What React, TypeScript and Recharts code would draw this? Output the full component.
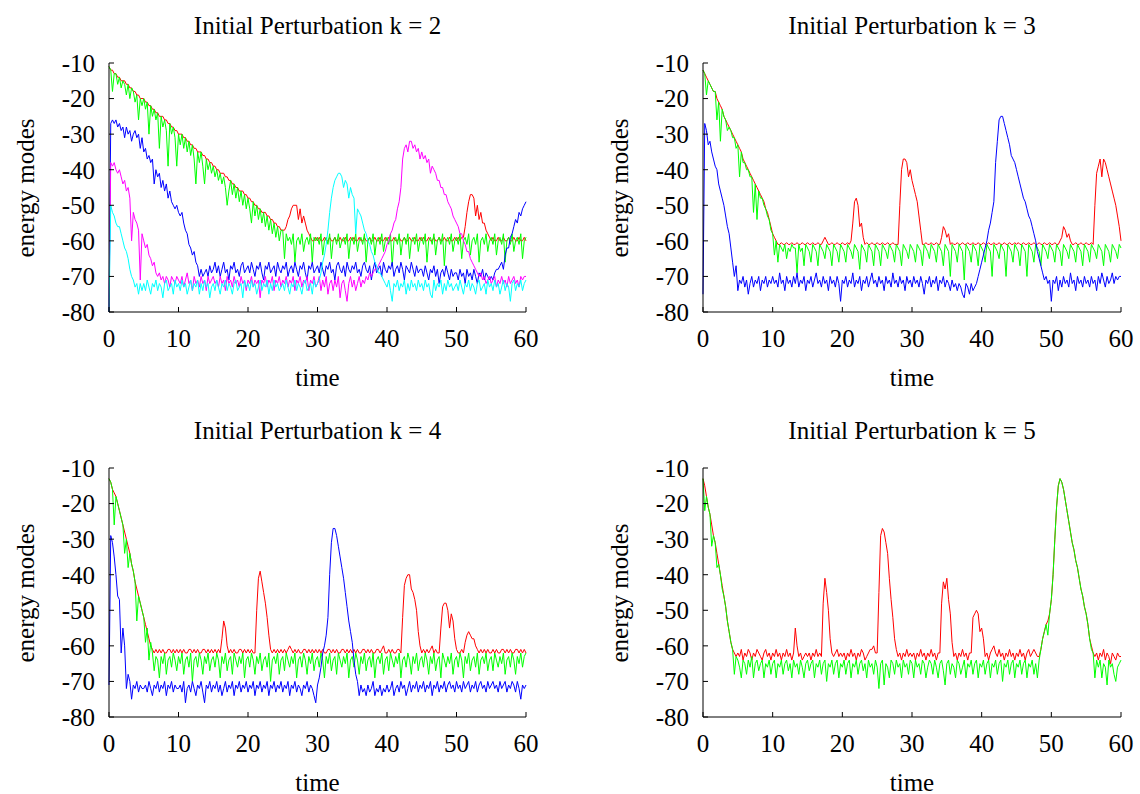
import React from 'react';
import { Line, LineChart, XAxis, YAxis } from 'recharts';

// sampling interval of every series, in time units (241 samples over 0..60)
const STEP = 0.25;
const X_TICKS = [0, 10, 20, 30, 40, 50, 60];
const Y_TICKS = [-80, -70, -60, -50, -40, -30, -20, -10];

// ---- k = 2 ----
const k2Red = [
  -11, -12, -12, -13, -13, -14, -14, -15, -15, -15, -16, -16, -17, -17, -18, -18, -19, -19, -20, -20,
  -20, -21, -21, -22, -22, -23, -23, -24, -24, -25, -25, -25, -26, -26, -27, -27, -28, -28, -29, -29,
  -30, -30, -30, -31, -31, -32, -32, -33, -33, -34, -34, -35, -35, -35, -36, -36, -37, -37, -38, -38,
  -39, -39, -40, -40, -41, -41, -41, -42, -42, -43, -43, -44, -44, -45, -45, -46, -46, -46, -47, -47,
  -48, -48, -49, -49, -50, -50, -51, -51, -52, -52, -52, -53, -53, -54, -54, -55, -55, -56, -56, -57,
  -57, -57, -56, -54, -53, -51, -50, -50, -50, -54, -51, -55, -53, -55, -57, -58, -59, -60, -60, -59,
  -60, -59, -60, -60, -59, -60, -60, -59, -60, -60, -59, -60, -60, -59, -60, -60, -59, -60, -60, -59,
  -60, -59, -60, -60, -59, -60, -60, -59, -60, -60, -59, -60, -60, -59, -60, -60, -59, -60, -60, -59,
  -60, -59, -60, -60, -59, -60, -60, -59, -60, -60, -59, -60, -60, -59, -60, -60, -59, -60, -60, -59,
  -60, -59, -60, -60, -59, -60, -60, -59, -60, -60, -59, -60, -60, -59, -60, -60, -59, -60, -60, -59,
  -60, -59, -60, -59, -59, -56, -52, -49, -47, -47, -48, -53, -50, -54, -52, -55, -55, -57, -58, -59,
  -60, -59, -60, -60, -59, -60, -60, -59, -60, -60, -59, -60, -60, -59, -60, -60, -59, -60, -60, -59,
  -60,
];
const k2Green = [
  -11, -12, -18, -13, -13, -16, -14, -17, -15, -16, -19, -16, -20, -17, -18, -21, -19, -26, -20, -22,
  -20, -23, -21, -30, -22, -25, -23, -26, -24, -34, -25, -28, -26, -29, -39, -27, -30, -28, -31, -39,
  -30, -33, -30, -34, -31, -35, -32, -36, -33, -37, -44, -35, -38, -35, -39, -44, -37, -40, -38, -41,
  -39, -42, -40, -43, -41, -44, -42, -45, -50, -46, -43, -47, -44, -48, -45, -49, -46, -50, -47, -51,
  -48, -51, -55, -49, -53, -50, -54, -51, -55, -52, -56, -53, -57, -54, -58, -55, -59, -56, -60, -57,
  -57, -65, -58, -60, -59, -61, -58, -66, -60, -59, -61, -58, -63, -60, -59, -61, -58, -66, -59, -60,
  -59, -61, -58, -64, -60, -59, -61, -58, -65, -60, -59, -61, -58, -62, -60, -59, -61, -58, -65, -60,
  -59, -61, -58, -63, -60, -59, -61, -58, -66, -60, -59, -61, -58, -64, -60, -59, -61, -58, -63, -60,
  -59, -61, -58, -67, -60, -59, -61, -58, -64, -60, -59, -61, -58, -65, -60, -59, -61, -58, -63, -60,
  -59, -61, -58, -66, -60, -59, -61, -58, -64, -60, -59, -61, -58, -67, -60, -59, -61, -58, -63, -60,
  -59, -61, -58, -65, -60, -59, -61, -58, -64, -60, -59, -61, -58, -66, -60, -59, -61, -58, -63, -60,
  -59, -61, -58, -64, -60, -59, -61, -58, -66, -60, -59, -61, -58, -63, -60, -59, -61, -58, -65, -60,
  -59,
];
const k2Blue = [
  -80, -27, -26, -27, -26, -28, -27, -29, -28, -31, -28, -30, -29, -32, -30, -29, -31, -30, -34, -31,
  -35, -34, -37, -36, -38, -37, -44, -40, -42, -41, -45, -43, -46, -44, -48, -46, -49, -50, -51, -50,
  -52, -53, -52, -55, -57, -58, -61, -62, -64, -63, -66, -67, -70, -68, -70, -69, -68, -70, -67, -69,
  -68, -66, -69, -67, -70, -68, -66, -69, -68, -71, -67, -68, -66, -69, -68, -70, -67, -66, -69, -68,
  -67, -69, -66, -68, -70, -67, -68, -66, -69, -71, -67, -68, -66, -69, -68, -67, -70, -66, -68, -69,
  -67, -68, -66, -70, -68, -67, -69, -66, -68, -70, -67, -68, -66, -69, -71, -67, -68, -66, -69, -68,
  -67, -69, -66, -68, -70, -67, -68, -66, -69, -68, -71, -67, -66, -68, -69, -67, -70, -66, -68, -69,
  -67, -68, -66, -69, -68, -70, -67, -66, -68, -69, -67, -71, -68, -66, -69, -68, -67, -70, -66, -68,
  -69, -67, -68, -66, -70, -68, -67, -69, -66, -68, -71, -67, -68, -69, -66, -68, -70, -67, -69, -68,
  -68, -70, -67, -69, -71, -68, -69, -67, -70, -68, -72, -69, -68, -70, -67, -69, -71, -68, -70, -69,
  -69, -71, -68, -70, -69, -72, -68, -70, -69, -71, -68, -70, -72, -69, -70, -68, -71, -69, -70, -71,
  -70, -71, -69, -68, -68, -67, -66, -68, -64, -62, -62, -59, -58, -56, -54, -55, -52, -53, -51, -50,
  -49,
];
const k2Magenta = [
  -80, -38, -39, -38, -40, -41, -40, -42, -44, -43, -46, -45, -48, -60, -52, -54, -55, -57, -71, -58,
  -60, -62, -61, -64, -65, -67, -66, -69, -70, -69, -71, -70, -72, -70, -71, -73, -70, -71, -72, -70,
  -71, -72, -70, -73, -71, -69, -72, -71, -74, -70, -72, -71, -73, -70, -72, -71, -74, -70, -72, -71,
  -70, -72, -71, -73, -70, -72, -71, -74, -70, -72, -71, -73, -70, -72, -71, -73, -70, -72, -71, -74,
  -71, -72, -70, -73, -71, -72, -71, -76, -71, -72, -70, -73, -71, -72, -70, -74, -71, -72, -70, -73,
  -71, -72, -70, -73, -71, -72, -70, -74, -71, -72, -70, -73, -71, -72, -70, -74, -71, -72, -70, -73,
  -72, -70, -74, -71, -73, -70, -75, -72, -71, -74, -71, -73, -70, -76, -72, -71, -74, -77, -72, -70,
  -73, -71, -74, -72, -70, -73, -71, -72, -70, -71, -69, -70, -69, -68, -68, -67, -66, -65, -64, -63,
  -61, -60, -58, -57, -55, -54, -51, -49, -45, -37, -34, -33, -35, -32, -32, -34, -33, -35, -34, -37,
  -35, -37, -36, -38, -37, -41, -39, -40, -41, -43, -43, -45, -45, -47, -47, -49, -50, -51, -53, -54,
  -55, -56, -58, -58, -60, -61, -63, -63, -65, -66, -67, -68, -69, -70, -69, -71, -70, -72, -71, -70,
  -72, -71, -70, -73, -71, -72, -70, -72, -71, -73, -70, -72, -71, -70, -72, -71, -73, -70, -71, -70,
  -70,
];
const k2Cyan = [
  -80, -50, -52, -53, -55, -56, -56, -58, -60, -62, -63, -65, -68, -70, -71, -73, -72, -75, -72, -74,
  -72, -74, -71, -73, -75, -72, -73, -71, -74, -72, -73, -76, -72, -71, -74, -73, -72, -75, -71, -73,
  -72, -74, -71, -73, -72, -75, -73, -71, -74, -72, -73, -71, -75, -72, -74, -71, -73, -72, -76, -73,
  -72, -74, -71, -73, -75, -72, -73, -71, -74, -72, -73, -75, -72, -71, -74, -73, -72, -76, -71, -73,
  -72, -74, -71, -73, -72, -75, -73, -71, -74, -72, -73, -71, -75, -72, -74, -71, -73, -72, -74, -73,
  -72, -74, -71, -73, -75, -72, -73, -71, -74, -72, -73, -75, -72, -71, -74, -73, -72, -75, -71, -73,
  -72, -71, -69, -66, -64, -61, -57, -52, -48, -45, -43, -42, -41, -41, -42, -45, -43, -44, -48, -45,
  -47, -48, -58, -51, -52, -53, -55, -57, -58, -60, -61, -63, -64, -66, -67, -69, -69, -70, -71, -72,
  -73, -71, -74, -77, -72, -73, -71, -74, -72, -73, -71, -75, -72, -74, -71, -73, -72, -74, -71, -73,
  -72, -74, -71, -73, -72, -75, -76, -71, -74, -72, -73, -71, -75, -72, -74, -71, -73, -72, -74, -73,
  -72, -74, -71, -73, -75, -72, -73, -71, -74, -72, -73, -75, -72, -71, -74, -73, -72, -75, -71, -73,
  -72, -74, -71, -73, -72, -75, -73, -71, -74, -72, -73, -77, -72, -71, -74, -72, -73, -71, -74, -72,
  -71,
];

// ---- k = 3 ----
const k3Red = [
  -12, -13, -14, -15, -16, -17, -18, -18, -20, -21, -22, -23, -25, -26, -27, -28, -29, -30, -31, -32,
  -33, -34, -35, -37, -38, -39, -40, -41, -42, -43, -44, -45, -46, -47, -48, -49, -51, -52, -54, -56,
  -58, -59, -60, -61, -61, -60.5, -61, -61, -60.5, -61, -61, -60.5, -61, -61, -60.5, -61, -61, -60.5, -61, -61,
  -60.5, -61, -61, -60.5, -61, -61, -60.5, -61, -61, -60, -59, -60, -61, -61, -60.5, -61, -61, -60.5, -61, -61,
  -60.5, -61, -61, -60.5, -61, -60, -55, -49, -48, -50, -56, -55, -59, -61, -60.5, -61, -61, -60.5, -61, -61,
  -60.5, -61, -61, -60.5, -61, -61, -60.5, -61, -61, -60.5, -61, -61, -61, -50, -40, -37, -37, -38, -42, -40,
  -43, -45, -47, -49, -53, -57, -61, -61, -60.5, -61, -61, -60.5, -61, -61, -60.5, -61, -61, -59, -56, -57,
  -59, -58, -61, -60.5, -61, -61, -60.5, -61, -61, -60.5, -61, -61, -60.5, -61, -61, -60.5, -61, -61, -60.5, -61,
  -61, -60.5, -61, -61, -60.5, -61, -61, -60.5, -61, -61, -60.5, -61, -61, -60.5, -61, -61, -60.5, -61, -61, -60.5,
  -61, -60.5, -61, -61, -60.5, -61, -61, -60.5, -61, -61, -60.5, -61, -61, -60.5, -61, -61, -60.5, -61, -61, -60.5,
  -61, -61, -60.5, -61, -61, -60, -59, -56, -57, -59, -58, -60, -61, -61, -60.5, -61, -61, -60.5, -61, -61,
  -60.5, -61, -61, -60.5, -61, -50, -41, -39, -37, -42, -37, -38, -40, -42, -44, -46, -48, -50, -53, -56,
  -60,
];
const k3Green = [
  -12, -13, -19, -15, -16, -17, -18, -18, -26, -21, -32, -23, -25, -26, -29, -28, -29, -31, -31, -34,
  -33, -42, -35, -38, -38, -40, -40, -42, -42, -52, -44, -54, -46, -48, -48, -50, -51, -53, -54, -57,
  -58, -64, -60, -66, -61, -62, -63, -61, -65, -62, -63, -61, -62, -62, -69, -61, -63, -62, -67, -61,
  -62, -63, -66, -61, -62, -63, -67, -61, -62, -63, -65, -61, -62, -63, -67, -61, -62, -63, -66, -61,
  -62, -63, -66, -61, -62, -63, -65, -61, -62, -63, -68, -61, -62, -63, -66, -61, -62, -63, -67, -61,
  -62, -63, -67, -61, -62, -63, -65, -61, -62, -63, -66, -61, -62, -63, -67, -61, -62, -63, -65, -61,
  -62, -63, -66, -61, -62, -63, -67, -61, -62, -63, -65, -61, -62, -63, -66, -61, -62, -63, -67, -61,
  -62, -63, -70, -61, -62, -63, -66, -61, -62, -63, -71, -61, -62, -63, -66, -61, -62, -63, -67, -61,
  -62, -63, -66, -61, -62, -63, -70, -61, -62, -63, -65, -61, -62, -63, -70, -61, -62, -63, -66, -61,
  -62, -63, -67, -61, -62, -63, -70, -61, -62, -63, -66, -61, -62, -63, -67, -61, -62, -63, -65, -61,
  -62, -63, -66, -61, -62, -63, -67, -61, -62, -63, -65, -61, -62, -63, -66, -61, -62, -63, -67, -61,
  -62, -63, -66, -61, -62, -63, -65, -61, -62, -63, -67, -61, -62, -63, -66, -61, -62, -63, -65, -61,
  -62,
];
const k3Blue = [
  -75, -27, -29, -33, -32, -35, -37, -39, -40, -44, -46, -48, -50, -53, -56, -58, -62, -66, -70, -67,
  -74, -71, -72, -70, -73, -71, -75, -72, -70, -73, -71, -72, -70, -74, -71, -72, -70, -73, -71, -72,
  -70, -72, -71, -73, -69, -72, -71, -74, -70, -72, -71, -73, -70, -72, -69, -73, -71, -72, -70, -74,
  -71, -72, -70, -73, -71, -69, -72, -71, -73, -70, -72, -71, -74, -70, -72, -71, -73, -70, -72, -77,
  -71, -72, -70, -73, -71, -72, -69, -73, -71, -72, -70, -74, -71, -72, -70, -73, -71, -69, -72, -71,
  -73, -70, -72, -71, -74, -70, -72, -71, -73, -69, -72, -71, -73, -70, -72, -71, -74, -70, -72, -71,
  -73, -70, -72, -71, -73, -70, -72, -75, -71, -72, -70, -73, -71, -72, -70, -74, -71, -72, -70, -73,
  -71, -72, -74, -71, -73, -72, -74, -72, -73, -75, -76, -72, -73, -75, -72, -74, -73, -72, -70, -68,
  -66, -64, -62, -60, -57, -55, -52, -49, -38, -32, -26, -25, -25, -27, -29, -31, -33, -36, -37, -38,
  -40, -42, -44, -46, -48, -49, -51, -53, -54, -56, -58, -60, -63, -65, -67, -69, -71, -70, -72, -71,
  -77, -71, -72, -70, -74, -71, -73, -70, -72, -71, -73, -69, -72, -71, -74, -70, -72, -71, -73, -70,
  -72, -71, -73, -70, -72, -71, -74, -70, -72, -69, -71, -73, -70, -72, -71, -69, -72, -70, -71, -70,
  -70,
];

// ---- k = 4 ----
const k4Red = [
  -13, -14, -16, -17, -18, -20, -22, -24, -26, -28, -30, -32, -34, -37, -39, -42, -44, -46, -48, -50,
  -52, -54, -56, -58, -60, -61, -62, -61, -62, -61, -62, -61, -62, -62, -61, -61, -62, -61, -62, -61,
  -62, -61, -62, -61, -62, -62, -61, -61, -62, -61, -62, -61, -62, -62, -61, -61, -62, -61, -62, -61,
  -62, -61, -62, -61, -62, -58, -53, -55, -60, -62, -61, -62, -61, -62, -62, -61, -61, -62, -61, -62,
  -61, -62, -61, -62, -62, -50, -41, -39, -42, -45, -48, -52, -57, -61, -62, -61, -62, -61, -62, -61,
  -62, -61, -62, -61, -60, -61, -62, -61, -62, -61, -62, -62, -61, -61, -62, -61, -62, -61, -62, -61,
  -62, -61, -62, -61, -62, -62, -61, -61, -62, -61, -62, -61, -62, -62, -61, -61, -62, -61, -62, -61,
  -62, -61, -62, -61, -62, -62, -61, -61, -62, -61, -62, -61, -62, -62, -61, -61, -62, -61, -60, -62,
  -62, -61, -62, -61, -62, -62, -61, -61, -62, -52, -43, -41, -40, -40, -44, -45, -47, -50, -56, -60,
  -62, -61, -62, -61, -62, -61, -60, -62, -61, -62, -62, -55, -49, -48, -48, -50, -55, -51, -53, -58,
  -61, -62, -62, -61, -62, -59, -57, -56, -57, -58, -58, -60, -61, -62, -61, -62, -61, -62, -61, -62,
  -62, -61, -62, -61, -62, -62, -61, -61, -62, -61, -62, -61, -62, -62, -61, -61, -62, -61, -62, -61,
  -62,
];
const k4Green = [
  -13, -14, -16, -26, -18, -20, -22, -24, -26, -34, -30, -38, -34, -37, -39, -42, -53, -46, -48, -50,
  -52, -59, -55, -64, -59, -62, -67, -63, -64, -69, -63, -65, -62, -68, -64, -63, -66, -62, -64, -67,
  -63, -65, -62, -68, -64, -63, -66, -62, -70, -64, -63, -66, -62, -64, -68, -63, -65, -62, -67, -64,
  -63, -66, -62, -64, -69, -63, -65, -62, -67, -64, -63, -68, -62, -64, -66, -63, -65, -62, -69, -64,
  -63, -66, -62, -64, -68, -63, -65, -62, -67, -64, -63, -66, -62, -70, -64, -63, -65, -62, -68, -64,
  -63, -67, -62, -64, -66, -63, -65, -62, -69, -64, -63, -66, -62, -64, -68, -63, -65, -62, -67, -64,
  -63, -66, -62, -64, -69, -63, -65, -62, -67, -64, -63, -68, -62, -64, -66, -63, -65, -62, -69, -64,
  -63, -66, -62, -64, -68, -63, -65, -62, -67, -64, -63, -66, -62, -69, -64, -63, -65, -62, -68, -64,
  -63, -67, -62, -64, -66, -63, -65, -62, -69, -64, -63, -66, -62, -64, -68, -63, -65, -62, -67, -64,
  -63, -66, -62, -64, -68, -63, -65, -62, -67, -64, -63, -69, -62, -64, -66, -63, -65, -62, -68, -64,
  -63, -66, -62, -64, -69, -63, -65, -62, -67, -64, -63, -66, -62, -68, -64, -63, -65, -62, -67, -64,
  -63, -67, -62, -64, -66, -63, -65, -62, -68, -64, -63, -66, -62, -64, -68, -63, -65, -62, -66, -63,
  -62,
];
const k4Blue = [
  -71, -29, -31, -35, -40, -46, -47, -62, -55, -60, -72, -68, -70, -75, -71, -72, -70, -73, -71, -72,
  -72, -71, -73, -70, -72, -74, -71, -72, -70, -73, -71, -72, -70, -74, -71, -72, -70, -73, -71, -72,
  -72, -71, -73, -70, -76, -72, -71, -73, -70, -72, -74, -71, -72, -70, -73, -76, -71, -72, -70, -73,
  -71, -72, -70, -73, -71, -74, -72, -70, -73, -71, -72, -70, -74, -71, -72, -70, -73, -71, -72, -70,
  -73, -71, -72, -70, -74, -71, -72, -70, -73, -71, -72, -70, -74, -71, -72, -70, -73, -71, -72, -70,
  -73, -71, -72, -70, -74, -71, -72, -70, -73, -71, -72, -74, -71, -72, -70, -73, -71, -72, -74, -76,
  -71, -69, -66, -62, -60, -57, -52, -40, -31, -27, -27, -29, -32, -35, -38, -41, -45, -49, -53, -56,
  -59, -64, -68, -70, -74, -71, -73, -72, -74, -71, -73, -72, -70, -74, -72, -73, -71, -74, -72, -73,
  -71, -73, -72, -70, -74, -72, -71, -73, -70, -72, -71, -74, -72, -70, -73, -71, -72, -70, -73, -71,
  -72, -70, -73, -71, -72, -70, -74, -71, -72, -70, -73, -71, -72, -70, -73, -71, -70, -72, -71, -73,
  -70, -72, -71, -73, -70, -72, -71, -70, -73, -71, -72, -70, -73, -71, -70, -72, -71, -73, -70, -72,
  -71, -70, -72, -71, -73, -70, -72, -71, -70, -73, -71, -72, -70, -71, -73, -70, -72, -75, -71, -72,
  -71,
];

// ---- k = 5 ----
const k5Red = [
  -13, -15, -18, -21, -23, -26, -29, -31, -34, -37, -40, -43, -46, -49, -53, -56, -59, -61, -62, -63,
  -62, -63, -61, -64, -62, -63, -61, -62, -64, -62, -63, -61, -62, -63, -64, -62, -61, -63, -62, -64,
  -62, -63, -61, -63, -62, -64, -62, -63, -61, -63, -62, -64, -62, -55, -60, -63, -62, -64, -63, -62,
  -63, -62, -64, -62, -63, -61, -63, -62, -63, -48, -41, -45, -50, -58, -62, -63, -62, -61, -63, -62,
  -63, -62, -64, -62, -63, -61, -63, -62, -64, -62, -63, -61, -62, -64, -63, -62, -61, -61, -60, -62,
  -62, -45, -29, -27, -28, -31, -34, -41, -47, -52, -58, -61, -63, -62, -64, -62, -63, -61, -63, -62,
  -63, -62, -64, -62, -63, -61, -63, -62, -64, -62, -63, -61, -63, -62, -64, -62, -62, -48, -42, -44,
  -41, -47, -51, -59, -63, -62, -64, -62, -63, -61, -63, -62, -64, -62, -62, -52, -51, -50, -51, -56,
  -55, -58, -63, -62, -64, -62, -61, -60, -62, -63, -61, -63, -62, -64, -62, -63, -61, -63, -62, -64,
  -62, -63, -61, -63, -62, -64, -62, -61, -63, -62, -61, -62, -63, -63, -61, -58, -56, -54, -53, -51,
  -47, -40, -30, -21, -15, -13, -14, -16, -19, -22, -25, -28, -31, -33, -36, -38, -41, -44, -46, -49,
  -51, -54, -58, -60, -62, -63, -62, -64, -62, -63, -61, -64, -62, -63, -65, -62, -63, -64, -62, -63,
  -63,
];
const k5Green = [
  -13, -22, -18, -21, -23, -32, -29, -31, -38, -37, -40, -44, -46, -49, -53, -56, -59, -61, -68, -63,
  -64, -66, -69, -64, -65, -68, -64, -66, -63, -69, -65, -64, -67, -65, -64, -69, -65, -66, -64, -68,
  -65, -64, -69, -65, -66, -64, -68, -65, -64, -67, -65, -69, -64, -66, -65, -68, -64, -66, -69, -65,
  -64, -67, -65, -64, -69, -65, -66, -64, -68, -65, -64, -70, -65, -66, -64, -68, -65, -64, -69, -65,
  -66, -64, -68, -65, -64, -69, -65, -66, -64, -68, -65, -64, -67, -65, -69, -64, -66, -65, -68, -64,
  -66, -72, -65, -64, -71, -65, -66, -69, -64, -65, -68, -64, -66, -65, -69, -64, -66, -65, -68, -64,
  -65, -69, -64, -66, -65, -68, -64, -65, -69, -66, -64, -65, -68, -64, -66, -69, -65, -64, -67, -71,
  -65, -64, -68, -65, -66, -69, -64, -65, -68, -66, -64, -69, -65, -66, -64, -68, -65, -64, -69, -65,
  -66, -64, -68, -65, -64, -69, -65, -66, -64, -68, -65, -64, -70, -65, -66, -64, -68, -65, -64, -69,
  -65, -66, -64, -68, -65, -64, -69, -65, -66, -64, -68, -65, -69, -64, -61, -58, -56, -54, -57, -51,
  -47, -40, -30, -21, -15, -13, -14, -16, -19, -22, -25, -28, -31, -33, -36, -38, -41, -44, -46, -49,
  -51, -54, -58, -61, -62, -69, -64, -66, -64, -69, -65, -66, -71, -64, -66, -65, -68, -70, -66, -65,
  -64,
];

const COLORS: Record<string, string> = {
  red: '#ff0000',
  green: '#00ff00',
  blue: '#0000ff',
  magenta: '#ff00ff',
  cyan: '#00ffff',
};

const FONT = '"Liberation Serif", "Times New Roman", serif';

type Series = Record<string, number[]>;

const toRows = (series: Series) =>
  series.red.map((_, i) => {
    const row: Record<string, number> = { t: i * STEP };
    for (const key of Object.keys(series)) row[key] = series[key][i];
    return row;
  });

const PANELS = [
  { k: 2, left: 0, top: 0, width: 570, plotRight: 526,
    series: { red: k2Red, green: k2Green, blue: k2Blue, magenta: k2Magenta, cyan: k2Cyan } },
  { k: 3, left: 594, top: 0, width: 546, plotRight: 527,
    series: { red: k3Red, green: k3Green, blue: k3Blue } },
  { k: 4, left: 0, top: 405, width: 570, plotRight: 526,
    series: { red: k4Red, green: k4Green, blue: k4Blue } },
  { k: 5, left: 594, top: 405, width: 546, plotRight: 527,
    series: { red: k5Red, green: k5Green } },
];

const PLOT_LEFT = 109;
const PLOT_TOP = 63;
const PLOT_BOTTOM = 312;
const HEIGHT = 386;

const tickStyle = { fontSize: 25, fontFamily: FONT, fill: '#000' };
const line = { stroke: '#000', strokeWidth: 1 };

const textStyle: React.CSSProperties = {
  position: 'absolute',
  fontFamily: FONT,
  fontSize: 25,
  lineHeight: '25px',
  color: '#000',
  whiteSpace: 'nowrap',
  transform: 'translate(-50%, -50%)',
};

function Panel({ k, left, top, width, plotRight, series }: (typeof PANELS)[number]) {
  const rows = toRows(series);
  const cx = (PLOT_LEFT + plotRight) / 2;
  return (
    <div style={{ position: 'absolute', left, top, width, height: HEIGHT }}>
      <LineChart
        width={width}
        height={HEIGHT}
        data={rows}
        margin={{ top: PLOT_TOP, right: width - plotRight, bottom: 0, left: PLOT_LEFT - 60 }}
      >
        <XAxis
          dataKey="t"
          type="number"
          domain={[0, 60]}
          ticks={X_TICKS}
          interval={0}
          height={HEIGHT - PLOT_BOTTOM}
          tickSize={-5}
          tickMargin={22}
          tick={tickStyle}
          axisLine={line}
          tickLine={line}
        />
        <XAxis
          xAxisId="top"
          orientation="top"
          type="number"
          domain={[0, 60]}
          ticks={X_TICKS}
          interval={0}
          height={0}
          tickSize={-5}
          tick={false}
          axisLine={line}
          tickLine={line}
        />
        <YAxis
          type="number"
          domain={[-80, -10]}
          ticks={Y_TICKS}
          interval={0}
          width={60}
          tickSize={-5}
          tickMargin={19}
          tick={tickStyle}
          axisLine={line}
          tickLine={line}
        />
        <YAxis
          yAxisId="right"
          orientation="right"
          type="number"
          domain={[-80, -10]}
          ticks={Y_TICKS}
          interval={0}
          width={0}
          tickSize={-5}
          tick={false}
          axisLine={line}
          tickLine={line}
        />
        {Object.keys(series).map((key) => (
          <Line
            key={key}
            type="linear"
            dataKey={key}
            stroke={COLORS[key]}
            strokeWidth={1}
            dot={false}
            activeDot={false}
            isAnimationActive={false}
          />
        ))}
      </LineChart>
      <div style={{ ...textStyle, left: cx, top: 25 }}>Initial Perturbation k = {k}</div>
      <div style={{ ...textStyle, left: cx, top: 377 }}>time</div>
      <div style={{ ...textStyle, left: 25, top: (PLOT_TOP + PLOT_BOTTOM) / 2, transform: 'translate(-50%, -50%) rotate(-90deg)' }}>
        energy modes
      </div>
    </div>
  );
}

export default function App() {
  return (
    <div style={{ position: 'absolute', left: 0, top: 0, width: 1140, height: 794, overflow: 'hidden', background: '#fff' }}>
      {PANELS.map((p) => (
        <Panel key={p.k} {...p} />
      ))}
    </div>
  );
}
